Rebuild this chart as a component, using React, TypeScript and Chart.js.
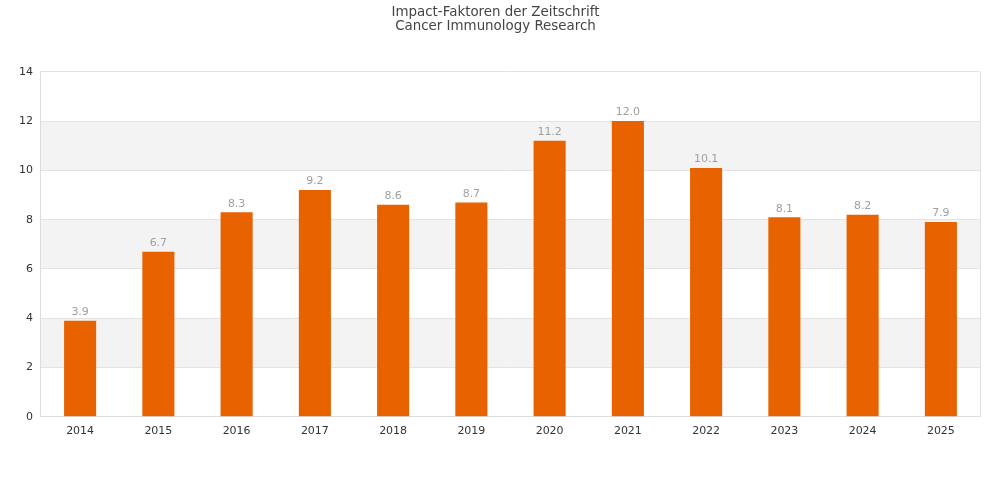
import React from 'react';
import { Chart, registerables, Plugin } from 'chart.js';

Chart.register(...registerables);

const years = ['2014', '2015', '2016', '2017', '2018', '2019', '2020', '2021', '2022', '2023', '2024', '2025'];
const impactFactors = [3.9, 6.7, 8.3, 9.2, 8.6, 8.7, 11.2, 12.0, 10.1, 8.1, 8.2, 7.9];
const titleLines = ['Impact-Faktoren der Zeitschrift', 'Cancer Immunology Research'];

const FONT = '"DejaVu Sans", sans-serif';

// Streifen im Hintergrund und Rahmen rechts
const bandsPlugin: Plugin<'bar'> = {
    id: 'bands',
    beforeDraw: (chart) => {
        const { ctx, chartArea } = chart;
        const y = chart.scales.y;
        ctx.save();
        ctx.fillStyle = '#f3f3f3';
        for (let v = 2; v < 14; v += 4) {
            const top = y.getPixelForValue(v + 2);
            const bottom = y.getPixelForValue(v);
            ctx.fillRect(chartArea.left, top, chartArea.right - chartArea.left, bottom - top);
        }
        ctx.restore();
    },
    afterDraw: (chart) => {
        const { ctx, chartArea } = chart;
        ctx.save();
        ctx.strokeStyle = '#dddddd';
        ctx.lineWidth = 1;
        ctx.beginPath();
        ctx.moveTo(chartArea.right + 0.5, chartArea.top);
        ctx.lineTo(chartArea.right + 0.5, chartArea.bottom);
        ctx.stroke();
        ctx.restore();
    }
};

const valueLabelPlugin: Plugin<'bar'> = {
    id: 'valueLabels',
    afterDatasetsDraw: (chart) => {
        const { ctx } = chart;
        const meta = chart.getDatasetMeta(0);
        ctx.save();
        ctx.fillStyle = '#a0a0a0';
        ctx.font = `11px ${FONT}`;
        ctx.textAlign = 'center';
        ctx.textBaseline = 'bottom';
        meta.data.forEach((bar, i) => {
            ctx.fillText(impactFactors[i].toFixed(1), bar.x, bar.y - 3);
        });
        ctx.restore();
    }
};

const ImpactChart: React.FC = () => {
    const chartRef = React.useRef<HTMLCanvasElement>(null);
    const chartInstance = React.useRef<Chart | null>(null);

    React.useEffect(() => {
        document.body.style.margin = '0';
        if (chartRef.current) {
            const ctx = chartRef.current.getContext('2d');
            if (ctx) {
                if (chartInstance.current) {
                    chartInstance.current.destroy();
                }

                chartInstance.current = new Chart(ctx, {
                    type: 'bar',
                    data: {
                        labels: years,
                        datasets: [{
                            label: 'Impact-Faktor',
                            data: impactFactors,
                            backgroundColor: '#e86300',
                            barPercentage: 0.41,
                            categoryPercentage: 1
                        }]
                    },
                    options: {
                        animation: false,
                        responsive: true,
                        maintainAspectRatio: false,
                        layout: {
                            padding: { left: 11, right: 20, top: 0, bottom: 62 }
                        },
                        plugins: {
                            legend: { display: false },
                            tooltip: { enabled: false },
                            title: {
                                display: true,
                                text: titleLines,
                                color: '#444444',
                                font: { family: FONT, size: 13.4, weight: 'normal', lineHeight: 1 },
                                padding: { top: 6, bottom: 39 }
                            }
                        },
                        scales: {
                            x: {
                                grid: { display: false },
                                border: { display: true, color: '#dddddd' },
                                ticks: {
                                    color: '#333333',
                                    font: { family: FONT, size: 11 },
                                    padding: 0
                                }
                            },
                            y: {
                                min: 0,
                                max: 14,
                                grid: { color: '#e3e3e3', drawTicks: false },
                                border: { display: true, color: '#dddddd' },
                                ticks: {
                                    stepSize: 2,
                                    color: '#333333',
                                    font: { family: FONT, size: 11 },
                                    padding: 8
                                }
                            }
                        }
                    },
                    plugins: [bandsPlugin, valueLabelPlugin]
                });
            }
        }

        return () => {
            if (chartInstance.current) {
                chartInstance.current.destroy();
                chartInstance.current = null;
            }
        };
    }, []);

    return (
        <div style={{ width: 1000, height: 500, position: 'relative' }}>
            <canvas ref={chartRef}></canvas>
        </div>
    );
};

export default function App() {
    return <ImpactChart />;
}
